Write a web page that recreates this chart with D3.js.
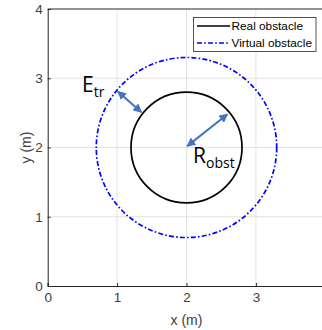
<!DOCTYPE html>
<html><head><meta charset="utf-8">
<script src="https://cdn.jsdelivr.net/npm/d3@7"></script>
<style>body{margin:0;background:#fff}svg{display:block}</style>
</head><body>
<script>
const xTicks = [0, 1, 2, 3, 4];
const yTicks = [0, 1, 2, 3, 4];
const center = [2, 2];
const radii = [0.8, 1.3];
const seriesNames = ["Real obstacle", "Virtual obstacle"];
const arrowE = [[1.01, 2.81], [1.35, 2.51]];
const arrowR = [[2.01, 2.02], [2.59, 2.48]];

const W = 322, H = 330;
const svg = d3.select("body").append("svg").attr("width", W).attr("height", H);
const x = d3.scaleLinear().domain([0, 4]).range([47.7, 325.3]);
const y = d3.scaleLinear().domain([0, 4]).range([286, 9]);

const defs = svg.append("defs");
defs.append("marker").attr("id", "ah").attr("viewBox", "0 0 10 10")
  .attr("refX", 9).attr("refY", 5).attr("markerWidth", 4.5).attr("markerHeight", 4.5)
  .attr("orient", "auto-start-reverse").attr("markerUnits", "strokeWidth")
  .append("path").attr("d", "M0,0 L10,5 L0,10 z").attr("fill", "#4472C4");

// grid
const g = svg.append("g");
g.selectAll(".gx").data(xTicks.slice(1, -1)).join("line")
  .attr("x1", d => x(d)).attr("x2", d => x(d)).attr("y1", y(0)).attr("y2", y(4))
  .attr("stroke", "#e3e3e3").attr("stroke-width", 1);
g.selectAll(".gy").data(yTicks.slice(1, -1)).join("line")
  .attr("x1", x(0)).attr("x2", x(4)).attr("y1", d => y(d)).attr("y2", d => y(d))
  .attr("stroke", "#e3e3e3").attr("stroke-width", 1);

// circles
const colors = ["#000000", "#0000ff"];
const dashes = [null, "5,2.2,1.6,2.2"];
radii.forEach((r, i) => {
  svg.append("ellipse")
    .attr("cx", x(center[0])).attr("cy", y(center[1]))
    .attr("rx", x(r) - x(0)).attr("ry", y(0) - y(r))
    .attr("fill", "none").attr("stroke", colors[i]).attr("stroke-width", 1.7)
    .attr("stroke-dasharray", dashes[i]);
});

// axes
const axisColor = "#262626";
const xAxis = svg.append("g").attr("transform", `translate(0,${y(0)})`)
  .call(d3.axisBottom(x).tickValues(xTicks).tickSize(-3).tickPadding(6)
    .tickFormat(d => d === 4 ? "" : d3.format("d")(d)));
const yAxis = svg.append("g").attr("transform", `translate(${x(0)},0)`)
  .call(d3.axisLeft(y).tickValues(yTicks).tickSize(-3).tickPadding(5).tickFormat(d3.format("d")));
[xAxis, yAxis].forEach(a => {
  a.select(".domain").attr("stroke", axisColor).attr("stroke-width", 1);
  a.selectAll(".tick line").attr("stroke", axisColor);
  a.selectAll("text").attr("fill", "#404040").style("font-family", "Liberation Sans, Arial, sans-serif").style("font-size", "13.5px");
});
svg.append("line").attr("x1", x(0)).attr("x2", x(4)).attr("y1", y(4)).attr("y2", y(4))
  .attr("stroke", axisColor).attr("stroke-width", 1);
svg.append("line").attr("x1", x(4)).attr("x2", x(4)).attr("y1", y(4)).attr("y2", y(0))
  .attr("stroke", axisColor).attr("stroke-width", 1);

svg.append("text").attr("x", x(2)).attr("y", 325).attr("text-anchor", "middle")
  .attr("fill", "#404040").style("font-family", "Liberation Sans, Arial, sans-serif").style("font-size", "14px").text("x (m)");
svg.append("text").attr("transform", `translate(31,${y(2)}) rotate(-90)`).attr("text-anchor", "middle")
  .attr("fill", "#404040").style("font-family", "Liberation Sans, Arial, sans-serif").style("font-size", "14px").text("y (m)");

// arrows
[arrowE, arrowR].forEach(a => {
  svg.append("line")
    .attr("x1", x(a[0][0])).attr("y1", y(a[0][1])).attr("x2", x(a[1][0])).attr("y2", y(a[1][1]))
    .attr("stroke", "#4472C4").attr("stroke-width", 2)
    .attr("marker-start", "url(#ah)").attr("marker-end", "url(#ah)");
});

// annotations
const annFont = "Open Sans, Noto Sans, sans-serif";
const tE = svg.append("text").attr("x", 82).attr("y", 92).attr("fill", "#000")
  .style("font-family", annFont).style("font-size", "21px");
tE.append("tspan").text("E");
tE.append("tspan").attr("dy", 5).style("font-size", "14px").text("tr");
const tR = svg.append("text").attr("x", 193).attr("y", 162.5).attr("fill", "#000")
  .style("font-family", annFont).style("font-size", "21px");
tR.append("tspan").text("R");
tR.append("tspan").attr("dy", 5.5).style("font-size", "14px").text("obst");

// legend
const lg = svg.append("g");
lg.append("rect").attr("x", 193.5).attr("y", 17.5).attr("width", 122.5).attr("height", 34)
  .attr("fill", "#fff").attr("stroke", "#262626").attr("stroke-width", 0.8);
seriesNames.forEach((n, i) => {
  const yy = 26 + i * 17;
  lg.append("line").attr("x1", 197).attr("x2", 230).attr("y1", yy).attr("y2", yy)
    .attr("stroke", colors[i]).attr("stroke-width", 1.7).attr("stroke-dasharray", dashes[i]);
  lg.append("text").attr("x", 231.5).attr("y", yy + 4).attr("fill", "#000")
    .style("font-family", "Liberation Sans, Arial, sans-serif").style("font-size", "11.8px").text(n);
});
</script>
</body></html>
